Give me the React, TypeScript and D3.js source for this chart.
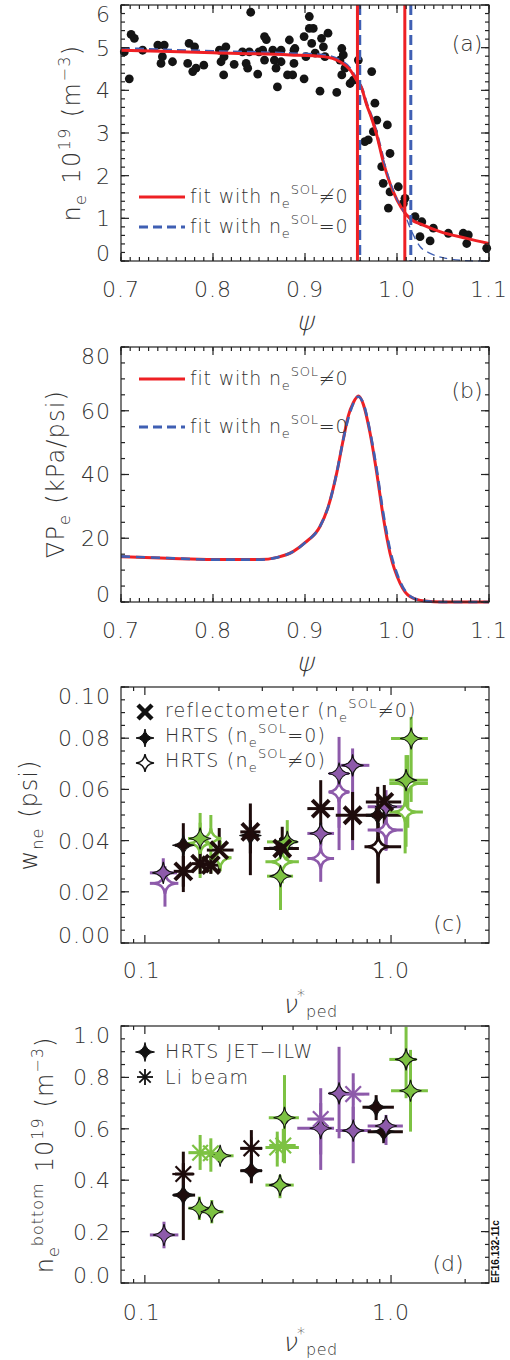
import React from "react";
import * as d3 from "d3";

// ---------------- data ----------------
// panel (a): HRTS density points
const scatterPsi = [0.7036,0.709,0.711,0.7145,0.7235,0.74,0.747,0.745,0.7435,0.756,0.774,0.78,0.7725,0.778,0.7815,0.79,0.807,0.814,0.812,0.8087,0.8116,0.823,0.832,0.8395,0.836,0.8377,0.841,0.8486,0.85,0.856,0.858,0.854,0.856,0.865,0.8667,0.8685,0.87,0.874,0.874,0.883,0.881,0.8866,0.888,0.888,0.899,0.901,0.899,0.9047,0.9047,0.889,0.909,0.9073,0.918,0.925,0.92,0.911,0.9217,0.9163,0.9345,0.94,0.9416,0.938,0.9435,0.94,0.949,0.9525,0.958,0.9725,0.976,0.978,0.9743,0.9895,0.9688,0.965,0.9924,0.9834,0.985,0.9924,1.0014,1.0087,0.9906,1.0069,1.0196,1.027,1.0395,1.025,1.036,1.0558,1.072,1.0775,1.0758,1.0975];
const scatterNe = [4.9,4.27,5.31,5.22,4.94,5.06,5.06,4.79,4.63,4.67,5.1,5.02,4.63,4.44,4.52,4.59,4.94,5.02,4.79,4.67,4.36,4.61,4.9,4.9,4.63,4.52,5.83,4.38,4.9,5.26,5.19,4.94,4.71,4.94,4.71,4.52,4.08,4.94,4.67,5.18,4.36,4.36,4.94,4.63,5.26,4.79,4.27,5.73,5.45,4.98,5.45,5.1,5.22,5.34,5.02,4.87,4.79,3.98,3.95,4.98,4.83,4.71,4.52,4.36,4.16,4.24,4.71,4.44,3.7,3.3,3.03,3.19,2.84,2.8,2.52,2.21,1.82,1.62,1.74,1.47,1.24,1.35,1.04,0.92,0.77,0.57,0.47,0.65,0.65,0.61,0.41,0.3];

const fitRedPsi = [0.7,0.8,0.884,0.92,0.938,0.949,0.956,0.9616,0.967,0.9725,0.978,0.985,0.996,1.005,1.014,1.0286,1.0467,1.0758,1.1];
const fitRedNe = [4.94,4.88,4.83,4.79,4.67,4.48,4.24,4.05,3.66,3.34,2.95,2.33,1.62,1.24,1.0,0.84,0.69,0.53,0.41];
const fitBluePsi = [0.7,0.8,0.884,0.92,0.938,0.949,0.956,0.9616,0.967,0.9725,0.978,0.985];
const fitBlueNe = [4.98,4.91,4.86,4.82,4.7,4.51,4.26,4.06,3.69,3.37,2.98,2.38];
const fitBlueTailPsi = [0.985,0.9978,1.0087,1.016,1.025,1.036,1.054,1.075,1.1];
const fitBlueTailNe = [2.38,1.55,1.08,0.69,0.34,0.18,0.06,0.01,0.0];
const pedRedPsi = [0.957, 1.0085];
const pedBluePsi = [0.9595, 1.015];

// panel (b): pressure gradient fits
const gradRedPsi = [0.7,0.75,0.8,0.85,0.87,0.887,0.9,0.9163,0.9254,0.9345,0.9416,0.947,0.9525,0.958,0.9634,0.9707,0.978,0.985,0.9924,1.0033,1.014,1.03,1.05,1.1];
const gradRedVal = [14.2,13.7,13.3,13.3,14.0,15.8,18.6,23.7,30,40.5,51,58.3,62.5,64.6,62,53,40.5,26.8,15.3,5.9,1.7,0.3,0,0];
const gradBluePsi = [0.7,0.75,0.8,0.85,0.87,0.887,0.9,0.9163,0.9254,0.9345,0.9416,0.947,0.9525,0.958,0.9634,0.9707,0.978,0.985,0.9924,1.0033,1.014,1.03,1.05,1.1];
const gradBlueVal = [14.3,13.8,13.3,13.3,14.0,15.8,18.6,23.7,30,40.5,51,57.5,62.3,64.4,62.3,53.5,41.5,28,16.5,6.5,1.9,0.3,0,0];

// panel (c): pedestal width  [nu, w, nuLo, nuHi, wLo, wHi, colour]
const reflC = [
  [0.1433,0.028,0.131,0.157,0.022,0.034,"k"],
  [0.1677,0.031,0.155,0.182,0.027,0.036,"k"],
  [0.1854,0.0304,0.172,0.2,0.027,0.034,"k"],
  [0.2005,0.0363,0.1786,0.2293,0.0278,0.0449,"k"],
  [0.2683,0.0434,0.2442,0.2948,0.0265,0.0545,"k"],
  [0.3614,0.0369,0.304,0.4224,0.0324,0.0454,"k"],
  [0.518,0.0525,0.4571,0.5869,0.0395,0.0636,"k"],
  [0.698,0.0499,0.5964,0.869,0.0402,0.059,"k"],
  [0.939,0.0551,0.79,1.1,0.045,0.0617,"k"],
];
const hrtsFilledC = [
  [0.1188,0.0274,0.1048,0.1351,0.0215,0.0331,"p"],
  [0.1433,0.0382,0.1326,0.1526,0.0199,0.0468,"k"],
  [0.1677,0.0408,0.1497,0.1877,0.0254,0.0508,"g"],
  [0.2683,0.042,0.25,0.29,0.035,0.048,"k"],
  [0.3556,0.037,0.32,0.4,0.033,0.041,"k"],
  [0.3789,0.0395,0.3135,0.416,0.0311,0.048,"g"],
  [0.3556,0.0261,0.3135,0.4,0.0129,0.0389,"g"],
  [0.518,0.0428,0.4571,0.5869,0.038,0.047,"p"],
  [0.615,0.0662,0.5592,0.6742,0.0363,0.0805,"p"],
  [0.698,0.0694,0.6243,0.8165,0.0363,0.076,"p"],
  [0.883,0.0499,0.7897,1.099,0.0233,0.061,"k"],
  [0.954,0.0532,0.8035,1.117,0.0363,0.0597,"p"],
  [1.207,0.0799,1.0,1.412,0.0551,0.0883,"g"],
  [1.151,0.0636,0.984,1.412,0.0376,0.0734,"g"],
];
const hrtsOpenC = [
  [0.1207,0.0233,0.1048,0.1368,0.0142,0.03,"p"],
  [0.1677,0.0389,0.1497,0.1877,0.03,0.047,"g"],
  [0.1854,0.0408,0.175,0.197,0.0272,0.05,"g"],
  [0.2024,0.0333,0.183,0.225,0.028,0.04,"g"],
  [0.3614,0.0317,0.3089,0.4224,0.0233,0.0415,"g"],
  [0.518,0.033,0.4571,0.5869,0.0239,0.0415,"p"],
  [0.615,0.059,0.559,0.674,0.045,0.068,"p"],
  [0.888,0.0376,0.78,1.099,0.0233,0.047,"k"],
  [0.954,0.0441,0.8035,1.117,0.036,0.052,"p"],
  [1.17,0.0623,0.984,1.412,0.045,0.0734,"g"],
  [1.141,0.0512,0.984,1.347,0.035,0.0636,"g"],
];

// panel (d): bottom density [nu, n, nuLo, nuHi, nLo, nHi, colour]
const hrtsD = [
  [0.1196,0.187,0.1048,0.1368,0.135,0.2385,"p"],
  [0.1433,0.342,0.1305,0.16,0.167,0.466,"k"],
  [0.2022,0.495,0.184,0.2293,0.47,0.52,"g"],
  [0.1665,0.291,0.1503,0.1855,0.245,0.336,"g"],
  [0.187,0.277,0.1703,0.2088,0.232,0.323,"g"],
  [0.2708,0.437,0.2442,0.2993,0.388,0.498,"k"],
  [0.3692,0.643,0.3187,0.4224,0.466,0.809,"g"],
  [0.354,0.381,0.3089,0.4026,0.33,0.42,"g"],
  [0.518,0.602,0.416,0.5869,0.5,0.7,"p"],
  [0.615,0.738,0.5592,0.6742,0.563,0.919,"p"],
  [0.702,0.593,0.5964,0.8296,0.466,0.686,"p"],
  [0.87,0.684,0.7656,1.027,0.634,0.731,"k"],
  [0.934,0.589,0.8035,1.117,0.544,0.634,"k"],
  [0.954,0.611,0.8035,1.117,0.537,0.654,"p"],
  [1.151,0.87,0.984,1.267,0.719,0.997,"g"],
  [1.2,0.748,1.0,1.412,0.589,0.907,"g"],
];
const liD = [
  [0.1433,0.424,0.1326,0.1576,0.336,0.511,"k"],
  [0.1677,0.507,0.1503,0.1872,0.44,0.576,"g"],
  [0.1854,0.505,0.1677,0.2056,0.433,0.563,"g"],
  [0.2708,0.524,0.2442,0.2993,0.453,0.595,"k"],
  [0.345,0.527,0.3089,0.4224,0.453,0.589,"g"],
  [0.365,0.535,0.32,0.41,0.47,0.6,"g"],
  [0.518,0.638,0.4571,0.5869,0.44,0.758,"p"],
  [0.702,0.735,0.6243,0.8165,0.634,0.816,"p"],
];

const psiTickLabels = ["0.7","0.8","0.9","1.0","1.1"];
const aTickLabels = ["0","1","2","3","4","5","6"];
const bTickLabels = ["0","20","40","60","80"];
const cTickLabels = ["0.00","0.02","0.04","0.06","0.08","0.10"];
const dTickLabels = ["0.0","0.2","0.4","0.6","0.8","1.0"];
const nuTickLabels = ["0.1","1.0"];

// ---------------- styles ----------------
const FONT = "'DejaVu Sans', 'Noto Sans', sans-serif";
const FW = 200;
const TXT = "#333";
const COL: Record<string, string> = { k: "#1e0c0c", p: "#8d5aaa", g: "#7dc243" };
const RED = "#ee2024";
const BLUE = "#3f5fb3";

const L = 121, R = 489;
const xPsi = d3.scaleLinear().domain([0.7, 1.1]).range([L, R]);
const yA = d3.scaleLinear().domain([0, 6]).range([261, 5]);
const yB = d3.scaleLinear().domain([0, 80]).range([602, 347]);
const xNu = d3.scaleLog().domain([0.08, 2.5]).range([L, R]);
const yC = d3.scaleLinear().domain([0, 0.1]).range([943, 687]);
const yD = d3.scaleLinear().domain([0, 1]).range([1283, 1026]);

const rng = (a: number, b: number, s: number) => {
  const out: number[] = [];
  const n = Math.round((b - a) / s);
  for (let i = 0; i <= n; i++) out.push(+(a + i * s).toFixed(6));
  return out;
};

const psiMaj = rng(0.7, 1.1, 0.1);
const psiMin = rng(0.7, 1.1, 0.01);
const nuMaj = [0.1, 1.0];
const nuMin = [0.09, 0.2, 0.3, 0.4, 0.5, 0.6, 0.7, 0.8, 0.9, 2.0];

function Frame({ xs, ys, xMaj, xMin, yMaj, yMin }: any) {
  const [xa, xb] = xs.range();
  const [yb, ya] = ys.range();
  const M = 8, m = 4;
  const segs: number[][] = [];
  xMaj.forEach((v: number) => { const x = xs(v); segs.push([x, yb, x, yb - M], [x, ya, x, ya + M]); });
  xMin.forEach((v: number) => { const x = xs(v); segs.push([x, yb, x, yb - m], [x, ya, x, ya + m]); });
  yMaj.forEach((v: number) => { const y = ys(v); segs.push([xa, y, xa + M, y], [xb, y, xb - M, y]); });
  yMin.forEach((v: number) => { const y = ys(v); segs.push([xa, y, xa + m, y], [xb, y, xb - m, y]); });
  return (
    <g stroke="#222" strokeWidth={1.2} fill="none">
      <rect x={xa} y={ya} width={xb - xa} height={yb - ya} />
      {segs.map((s, i) => <line key={i} x1={s[0]} y1={s[1]} x2={s[2]} y2={s[3]} />)}
    </g>
  );
}

function YLabels({ ys, vals, labels }: any) {
  const [yb, ya] = ys.range();
  return (
    <g fontFamily={FONT} fontWeight={FW} fontSize={22} fill={TXT} textAnchor="end" letterSpacing={1}>
      {vals.map((v: number, i: number) => {
        let y = ys(v);
        if (Math.abs(y - ya) < 2) y += 9;
        if (Math.abs(y - yb) < 2) y -= 8;
        return <text key={i} x={111} y={y} dy="0.36em">{labels[i]}</text>;
      })}
    </g>
  );
}

function XLabels({ xs, vals, labels, y, dx = 0 }: any) {
  return (
    <g fontFamily={FONT} fontWeight={FW} fontSize={22} fill={TXT} textAnchor="middle" letterSpacing={1}>
      {vals.map((v: number, i: number) => (
        <text key={i} x={xs(v) + (i === 0 ? dx : 0)} y={y}>{labels[i]}</text>
      ))}
    </g>
  );
}

const starPath = (r: number) => {
  const c = r * 0.1;
  return `M0,${-r}Q${c},${-c} ${r},0Q${c},${c} 0,${r}Q${-c},${c} ${-r},0Q${-c},${-c} 0,${-r}Z`;
};

function ErrBars({ pts, xs, ys }: any) {
  return (
    <g strokeWidth={3}>
      {pts.map((p: any[], i: number) => (
        <g key={i} stroke={COL[p[6]]}>
          <line x1={xs(p[2])} x2={xs(p[3])} y1={ys(p[1])} y2={ys(p[1])} />
          <line x1={xs(p[0])} x2={xs(p[0])} y1={ys(p[4])} y2={ys(p[5])} />
        </g>
      ))}
    </g>
  );
}

function FilledStars({ pts, xs, ys, r = 11 }: any) {
  return (
    <g>
      {pts.map((p: any[], i: number) => (
        <path key={i} d={starPath(r)} transform={`translate(${xs(p[0])},${ys(p[1])})`}
          fill={COL[p[6]]} stroke="#111" strokeWidth={1.1} />
      ))}
    </g>
  );
}

function OpenStars({ pts, xs, ys, r = 10.5 }: any) {
  return (
    <g>
      {pts.map((p: any[], i: number) => (
        <path key={i} d={starPath(r)} transform={`translate(${xs(p[0])},${ys(p[1])})`}
          fill="#fff" stroke={COL[p[6]]} strokeWidth={2.6} />
      ))}
    </g>
  );
}

function Crosses({ pts, xs, ys, h = 8.5 }: any) {
  return (
    <g strokeWidth={4}>
      {pts.map((p: any[], i: number) => {
        const x = xs(p[0]), y = ys(p[1]);
        return (
          <g key={i} stroke={COL[p[6]]}>
            <line x1={x - h} y1={y - h} x2={x + h} y2={y + h} />
            <line x1={x - h} y1={y + h} x2={x + h} y2={y - h} />
          </g>
        );
      })}
    </g>
  );
}

function Asterisks({ pts, xs, ys, r = 11, sw = 2.2 }: any) {
  const d = r * Math.SQRT1_2;
  return (
    <g strokeWidth={sw}>
      {pts.map((p: any[], i: number) => {
        const x = xs(p[0]), y = ys(p[1]);
        return (
          <g key={i} stroke={COL[p[6]]}>
            <line x1={x - r} y1={y} x2={x + r} y2={y} />
            <line x1={x} y1={y - r} x2={x} y2={y + r} />
            <line x1={x - d} y1={y - d} x2={x + d} y2={y + d} />
            <line x1={x - d} y1={y + d} x2={x + d} y2={y - d} />
          </g>
        );
      })}
    </g>
  );
}

function SolLegend({ x, y, rel }: any) {
  return (
    <text x={x} y={y} fontFamily={FONT} fontWeight={FW} fontSize={19} fill={TXT} letterSpacing={0.8}>
      fit with n<tspan fontSize={13} dy={5}>e</tspan>
      <tspan fontSize={13} dy={-14}>SOL</tspan>
      <tspan dy={9}>{rel}0</tspan>
    </text>
  );
}

function PsiLabel({ y }: any) {
  return (
    <text transform={`translate(305,${y}) skewX(-14)`} fontFamily={FONT} fontWeight={FW} fontSize={26} fill={TXT} textAnchor="middle">ψ</text>
  );
}

function NuLabel({ y }: any) {
  return (
    <g>
      <text transform={`translate(289,${y}) skewX(-14)`} fontFamily={FONT} fontWeight={FW} fontSize={26} fill={TXT} textAnchor="middle">ν</text>
      <text x={297} y={y - 12} fontFamily={FONT} fontWeight={FW} fontSize={16} fill={TXT}>*</text>
      <text x={306} y={y + 4} fontFamily={FONT} fontWeight={FW} fontSize={16} fill={TXT} letterSpacing={0.5}>ped</text>
    </g>
  );
}

export default function App() {
  const lineA = d3.line<number>().curve(d3.curveMonotoneX);
  const redA = lineA(fitRedPsi.map((p, i) => [xPsi(p), yA(fitRedNe[i])] as any));
  const blueA = lineA(fitBluePsi.map((p, i) => [xPsi(p), yA(fitBlueNe[i])] as any));
  const blueTailA = lineA(fitBlueTailPsi.map((p, i) => [xPsi(p), yA(fitBlueTailNe[i])] as any));
  const redB = lineA(gradRedPsi.map((p, i) => [xPsi(p), yB(gradRedVal[i])] as any));
  const blueB = lineA(gradBluePsi.map((p, i) => [xPsi(p), yB(gradBlueVal[i])] as any));

  return (
    <svg width={510} height={1360} style={{ position: "absolute", left: 0, top: 0, background: "#fff" }}
      xmlns="http://www.w3.org/2000/svg">
      <rect x={0} y={0} width={510} height={1360} fill="#fff" />

      {/* ---------------- panel (a) ---------------- */}
      <g>
        {scatterPsi.map((p, i) => (
          <circle key={i} cx={xPsi(p)} cy={yA(scatterNe[i])} r={4.4} fill="#141414" />
        ))}
        <path d={blueA || ""} fill="none" stroke={BLUE} strokeWidth={3} strokeDasharray="9,5" />
        <path d={redA || ""} fill="none" stroke={RED} strokeWidth={3} />
        <path d={blueTailA || ""} fill="none" stroke={BLUE} strokeWidth={1.3} strokeDasharray="8,5" />
        {pedBluePsi.map((p, i) => (
          <line key={"b" + i} x1={xPsi(p)} x2={xPsi(p)} y1={5} y2={261} stroke={BLUE} strokeWidth={3} strokeDasharray="10,5" />
        ))}
        {pedRedPsi.map((p, i) => (
          <line key={"r" + i} x1={xPsi(p)} x2={xPsi(p)} y1={5} y2={261} stroke={RED} strokeWidth={3} />
        ))}
        <Frame xs={xPsi} ys={yA} xMaj={psiMaj} xMin={psiMin} yMaj={rng(0, 6, 1)} yMin={rng(0, 6, 0.2)} />
        <YLabels ys={yA} vals={rng(0, 6, 1)} labels={aTickLabels} />
        <XLabels xs={xPsi} vals={psiMaj} labels={psiTickLabels} y={297} />
        <PsiLabel y={330} />
        <text transform="translate(80,133) rotate(-90)" fontFamily={FONT} fontWeight={FW} fontSize={24} fill={TXT} textAnchor="middle" letterSpacing={1.4}>
          n<tspan fontSize={16} dy={6}>e</tspan>
          <tspan dy={-6} dx={10}>10</tspan>
          <tspan fontSize={16} dy={-10}>19</tspan>
          <tspan dy={10} dx={10}>(m</tspan>
          <tspan fontSize={16} dy={-10}>−3</tspan>
          <tspan dy={10}>)</tspan>
        </text>
        <text x={467} y={51} fontFamily={FONT} fontWeight={FW} fontSize={22} fill={TXT} textAnchor="middle">(a)</text>
        <line x1={139} x2={185} y1={197} y2={197} stroke={RED} strokeWidth={3} />
        <SolLegend x={190} y={203} rel="≠" />
        <line x1={139} x2={185} y1={227} y2={227} stroke={BLUE} strokeWidth={3} strokeDasharray="9,5" />
        <SolLegend x={190} y={233} rel="=" />
      </g>

      {/* ---------------- panel (b) ---------------- */}
      <g>
        <path d={redB || ""} fill="none" stroke={RED} strokeWidth={3} />
        <path d={blueB || ""} fill="none" stroke={BLUE} strokeWidth={2.6} strokeDasharray="9,6" />
        <Frame xs={xPsi} ys={yB} xMaj={psiMaj} xMin={psiMin} yMaj={rng(0, 80, 20)} yMin={rng(0, 80, 5)} />
        <YLabels ys={yB} vals={rng(0, 80, 20)} labels={bTickLabels} />
        <XLabels xs={xPsi} vals={psiMaj} labels={psiTickLabels} y={638} />
        <PsiLabel y={671} />
        <text transform="translate(64,474) rotate(-90)" fontFamily={FONT} fontWeight={FW} fontSize={24} fill={TXT} textAnchor="middle" letterSpacing={1.2}>
          ∇P<tspan fontSize={16} dy={6}>e</tspan>
          <tspan dy={-6} dx={10}>(kPa/psi)</tspan>
        </text>
        <text x={467} y={398} fontFamily={FONT} fontWeight={FW} fontSize={22} fill={TXT} textAnchor="middle">(b)</text>
        <line x1={139} x2={185} y1={379} y2={379} stroke={RED} strokeWidth={3} />
        <SolLegend x={190} y={385} rel="≠" />
        <line x1={139} x2={185} y1={427} y2={427} stroke={BLUE} strokeWidth={3} strokeDasharray="9,5" />
        <SolLegend x={190} y={433} rel="=" />
      </g>

      {/* ---------------- panel (c) ---------------- */}
      <g>
        <ErrBars pts={[...hrtsOpenC, ...hrtsFilledC, ...reflC]} xs={xNu} ys={yC} />
        <OpenStars pts={hrtsOpenC} xs={xNu} ys={yC} />
        <FilledStars pts={hrtsFilledC} xs={xNu} ys={yC} />
        <Crosses pts={reflC} xs={xNu} ys={yC} />
        <Frame xs={xNu} ys={yC} xMaj={nuMaj} xMin={nuMin} yMaj={rng(0, 0.1, 0.02)} yMin={rng(0, 0.1, 0.005)} />
        <YLabels ys={yC} vals={rng(0, 0.1, 0.02)} labels={cTickLabels} />
        <XLabels xs={xNu} vals={nuMaj} labels={nuTickLabels} y={978} dx={-3} />
        <NuLabel y={1013} />
        <text transform="translate(37,815) rotate(-90)" fontFamily={FONT} fontWeight={FW} fontSize={24} fill={TXT} textAnchor="middle" letterSpacing={1}>
          w<tspan fontSize={16} dy={6}>ne</tspan>
          <tspan dy={-6} dx={10}>(psi)</tspan>
        </text>
        <text x={448} y={931} fontFamily={FONT} fontWeight={FW} fontSize={22} fill={TXT} textAnchor="middle">(c)</text>
        {/* legend */}
        <g stroke="#111" strokeWidth={4.5}>
          <line x1={138} y1={705} x2={152} y2={719} />
          <line x1={138} y1={719} x2={152} y2={705} />
        </g>
        <path d={starPath(9)} transform="translate(145,738)" fill="#111" stroke="#111" strokeWidth={1} />
        <path d={starPath(9)} transform="translate(145,763)" fill="#fff" stroke="#111" strokeWidth={1.5} />
        <g fontFamily={FONT} fontWeight={FW} fontSize={19} fill={TXT} letterSpacing={1.2}>
          <text x={165} y={717}>reflectometer (n<tspan fontSize={13} dy={5}>e</tspan><tspan fontSize={13} dy={-14}>SOL</tspan><tspan dy={9}>≠0)</tspan></text>
          <text x={165} y={742}>HRTS (n<tspan fontSize={13} dy={5}>e</tspan><tspan fontSize={13} dy={-14}>SOL</tspan><tspan dy={9}>=0)</tspan></text>
          <text x={165} y={767}>HRTS (n<tspan fontSize={13} dy={5}>e</tspan><tspan fontSize={13} dy={-14}>SOL</tspan><tspan dy={9}>≠0)</tspan></text>
        </g>
      </g>

      {/* ---------------- panel (d) ---------------- */}
      <g>
        <ErrBars pts={[...hrtsD, ...liD]} xs={xNu} ys={yD} />
        <FilledStars pts={hrtsD} xs={xNu} ys={yD} />
        <Asterisks pts={liD} xs={xNu} ys={yD} />
        <Frame xs={xNu} ys={yD} xMaj={nuMaj} xMin={nuMin} yMaj={rng(0, 1, 0.2)} yMin={rng(0, 1, 0.05)} />
        <YLabels ys={yD} vals={rng(0, 1, 0.2)} labels={dTickLabels} />
        <XLabels xs={xNu} vals={nuMaj} labels={nuTickLabels} y={1320} dx={-3} />
        <NuLabel y={1351} />
        <text transform="translate(53,1155) rotate(-90)" fontFamily={FONT} fontWeight={FW} fontSize={24} fill={TXT} textAnchor="middle" letterSpacing={1}>
          n<tspan fontSize={16} dy={6}>e</tspan>
          <tspan fontSize={16} dy={-16}>bottom</tspan>
          <tspan dy={10} dx={10}>10</tspan>
          <tspan fontSize={16} dy={-10}>19</tspan>
          <tspan dy={10} dx={10}>(m</tspan>
          <tspan fontSize={16} dy={-10}>−3</tspan>
          <tspan dy={10}>)</tspan>
        </text>
        <text x={448} y={1271} fontFamily={FONT} fontWeight={FW} fontSize={22} fill={TXT} textAnchor="middle">(d)</text>
        <path d={starPath(9.5)} transform="translate(145,1052)" fill="#111" stroke="#111" strokeWidth={1} />
        <g stroke="#111" strokeWidth={1.8}>
          <line x1={137} y1={1077} x2={153} y2={1077} />
          <line x1={145} y1={1069} x2={145} y2={1085} />
          <line x1={139.3} y1={1071.3} x2={150.7} y2={1082.7} />
          <line x1={139.3} y1={1082.7} x2={150.7} y2={1071.3} />
        </g>
        <g fontFamily={FONT} fontWeight={FW} fontSize={19} fill={TXT} letterSpacing={1.2}>
          <text x={165} y={1058}>HRTS JET−ILW</text>
          <text x={165} y={1084}>Li beam</text>
        </g>
        <text transform="translate(499,1283) rotate(-90)" fontFamily="'Liberation Sans', Arial, sans-serif" fontWeight="bold" fontSize={10} fill="#111">EF16.132-11c</text>
      </g>
    </svg>
  );
}
